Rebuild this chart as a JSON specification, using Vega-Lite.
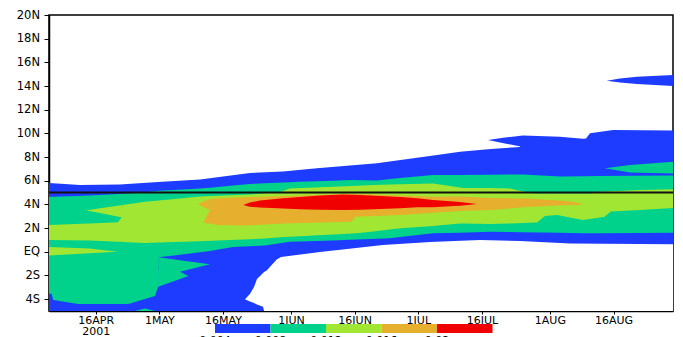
{
  "$schema": "https://vega.github.io/schema/vega-lite/v6.json",
  "width": 624,
  "height": 296,
  "autosize": {"type": "none"},
  "padding": {"left": 49, "top": 15, "right": 10, "bottom": 26},
  "background": "white",
  "config": {
    "view": {"stroke": "#000", "strokeWidth": 1.5},
    "font": "DejaVu Sans",
    "legend": {"gradientHorizontalMaxLength": 400},
    "axisY": {
      "title": null, "grid": false,
      "values": [-4, -2, 0, 2, 4, 6, 8, 10, 12, 14, 16, 18, 20],
      "labelExpr": "datum.value == 0 ? 'EQ' : (datum.value > 0 ? datum.value + 'N' : (-datum.value) + 'S')",
      "labelOverlap": false, "labelFlush": false,
      "labelFont": "DejaVu Sans", "labelFontSize": 11.5, "labelColor": "#000",
      "labelPadding": 4.5, "tickSize": 5, "tickColor": "#000", "domainColor": "#000", "domainWidth": 1.5
    }
  },
  "layer": [
    {
      "data": {"values": [
        {"z":1,"lev":0.004,"p":"b1","t":"2001-04-05T00:00Z","lo":-5,"hi":5.81},
        {"z":1,"lev":0.004,"p":"b1","t":"2001-04-12T07:00Z","lo":-5,"hi":5.64},
        {"z":1,"lev":0.004,"p":"b1","t":"2001-04-21T17:00Z","lo":-5,"hi":5.68},
        {"z":1,"lev":0.004,"p":"b1","t":"2001-04-30T16:00Z","lo":-5,"hi":5.90},
        {"z":1,"lev":0.004,"p":"b1","t":"2001-05-10T14:00Z","lo":-5,"hi":6.11},
        {"z":1,"lev":0.004,"p":"b1","t":"2001-05-22T08:00Z","lo":-5,"hi":6.66},
        {"z":1,"lev":0.004,"p":"b1","t":"2001-05-30T03:00Z","lo":-5,"hi":6.78},
        {"z":1,"lev":0.004,"p":"b1","t":"2001-06-07T03:00Z","lo":-5,"hi":7.05},
        {"z":1,"lev":0.004,"p":"b1","t":"2001-06-21T06:00Z","lo":-5,"hi":7.47},
        {"z":1,"lev":0.004,"p":"b1","t":"2001-06-25T23:00Z","lo":-5,"hi":7.71},
        {"z":1,"lev":0.004,"p":"b1","t":"2001-07-05T10:00Z","lo":-5,"hi":8.18},
        {"z":1,"lev":0.004,"p":"b1","t":"2001-07-10T20:00Z","lo":-5,"hi":8.45},
        {"z":1,"lev":0.004,"p":"b1","t":"2001-07-17T10:00Z","lo":-5,"hi":8.66},
        {"z":1,"lev":0.004,"p":"b1","t":"2001-07-21T10:00Z","lo":-5,"hi":8.77},
        {"z":1,"lev":0.004,"p":"b1","t":"2001-07-24T23:00Z","lo":-5,"hi":8.85},
        {"z":1,"lev":0.004,"p":"b1","t":"2001-07-25T16:00Z","lo":-5,"hi":9.82},
        {"z":1,"lev":0.004,"p":"b1","t":"2001-08-03T09:00Z","lo":-5,"hi":9.72},
        {"z":1,"lev":0.004,"p":"b1","t":"2001-08-08T19:00Z","lo":-5,"hi":9.55},
        {"z":1,"lev":0.004,"p":"b1","t":"2001-08-09T12:00Z","lo":-5,"hi":9.57},
        {"z":1,"lev":0.004,"p":"b1","t":"2001-08-10T11:00Z","lo":-5,"hi":10.01},
        {"z":1,"lev":0.004,"p":"b1","t":"2001-08-15T21:00Z","lo":-5,"hi":10.29},
        {"z":1,"lev":0.004,"p":"b1","t":"2001-08-30T00:00Z","lo":-5,"hi":10.25},
        {"z":1,"lev":0.004,"p":"b2","t":"2001-07-17T10:00Z","lo":9.44,"hi":9.44},
        {"z":1,"lev":0.004,"p":"b2","t":"2001-07-21T10:00Z","lo":9.15,"hi":9.65},
        {"z":1,"lev":0.004,"p":"b2","t":"2001-07-25T16:00Z","lo":8.85,"hi":9.82},
        {"z":1,"lev":0.004,"p":"b3","t":"2001-08-14T09:00Z","lo":14.45,"hi":14.45},
        {"z":1,"lev":0.004,"p":"b3","t":"2001-08-17T12:00Z","lo":14.30,"hi":14.64},
        {"z":1,"lev":0.004,"p":"b3","t":"2001-08-21T12:00Z","lo":14.17,"hi":14.79},
        {"z":1,"lev":0.004,"p":"b3","t":"2001-08-30T00:00Z","lo":14.00,"hi":14.93},
        {"z":2,"lev":0,"p":"w1","t":"2001-05-21T04:00Z","lo":-4.01,"hi":-4.01},
        {"z":2,"lev":0,"p":"w1","t":"2001-05-22T08:00Z","lo":-4.20,"hi":-3.56},
        {"z":2,"lev":0,"p":"w1","t":"2001-05-23T07:00Z","lo":-4.32,"hi":-2.97},
        {"z":2,"lev":0,"p":"w1","t":"2001-05-24T00:00Z","lo":-4.45,"hi":-2.30},
        {"z":2,"lev":0,"p":"w1","t":"2001-05-25T10:00Z","lo":-4.64,"hi":-1.79},
        {"z":2,"lev":0,"p":"w1","t":"2001-05-25T16:00Z","lo":-5,"hi":-1.71},
        {"z":2,"lev":0,"p":"w1","t":"2001-05-26T07:00Z","lo":-5,"hi":-1.58},
        {"z":2,"lev":0,"p":"w1","t":"2001-05-28T15:00Z","lo":-5,"hi":-0.65},
        {"z":2,"lev":0,"p":"w1","t":"2001-05-29T16:00Z","lo":-5,"hi":-0.44},
        {"z":2,"lev":0,"p":"w1","t":"2001-06-07T20:00Z","lo":-5,"hi":-0.01},
        {"z":2,"lev":0,"p":"w1","t":"2001-06-22T16:00Z","lo":-5,"hi":0.57},
        {"z":2,"lev":0,"p":"w1","t":"2001-07-03T18:00Z","lo":-5,"hi":0.83},
        {"z":2,"lev":0,"p":"w1","t":"2001-07-15T13:00Z","lo":-5,"hi":1.00},
        {"z":2,"lev":0,"p":"w1","t":"2001-07-24T23:00Z","lo":-5,"hi":0.91},
        {"z":2,"lev":0,"p":"w1","t":"2001-08-05T18:00Z","lo":-5,"hi":0.70},
        {"z":2,"lev":0,"p":"w1","t":"2001-08-30T00:00Z","lo":-5,"hi":0.63},
        {"z":3,"lev":0.008,"p":"t1","t":"2001-04-05T00:00Z","lo":-3.52,"hi":4.63},
        {"z":3,"lev":0.008,"p":"t1","t":"2001-04-05T15:00Z","lo":-3.56,"hi":4.64},
        {"z":3,"lev":0.008,"p":"t1","t":"2001-04-06T00:00Z","lo":-4.07,"hi":4.65},
        {"z":3,"lev":0.008,"p":"t1","t":"2001-04-11T20:00Z","lo":-4.41,"hi":4.72},
        {"z":3,"lev":0.008,"p":"t1","t":"2001-04-14T16:00Z","lo":-4.41,"hi":4.76},
        {"z":3,"lev":0.008,"p":"t1","t":"2001-04-23T15:00Z","lo":-4.41,"hi":4.92},
        {"z":3,"lev":0.008,"p":"t1","t":"2001-04-24T02:00Z","lo":-4.36,"hi":4.92},
        {"z":3,"lev":0.008,"p":"t1","t":"2001-04-29T23:00Z","lo":-3.73,"hi":5.12},
        {"z":3,"lev":0.008,"p":"t1","t":"2001-04-30T11:00Z","lo":-3.21,"hi":5.14},
        {"z":3,"lev":0.008,"p":"t1","t":"2001-04-30T16:00Z","lo":-2.97,"hi":5.14},
        {"z":3,"lev":0.008,"p":"t1","t":"2001-04-30T20:00Z","lo":-0.46,"hi":5.15},
        {"z":3,"lev":0.008,"p":"t1","t":"2001-05-05T09:00Z","lo":-0.27,"hi":5.24},
        {"z":3,"lev":0.008,"p":"t1","t":"2001-05-10T14:00Z","lo":-0.04,"hi":5.35},
        {"z":3,"lev":0.008,"p":"t1","t":"2001-05-12T22:00Z","lo":0.07,"hi":5.42},
        {"z":3,"lev":0.008,"p":"t1","t":"2001-05-18T08:00Z","lo":0.41,"hi":5.60},
        {"z":3,"lev":0.008,"p":"t1","t":"2001-05-22T08:00Z","lo":0.47,"hi":5.73},
        {"z":3,"lev":0.008,"p":"t1","t":"2001-05-25T21:00Z","lo":0.53,"hi":5.78},
        {"z":3,"lev":0.008,"p":"t1","t":"2001-05-31T18:00Z","lo":0.85,"hi":5.88},
        {"z":3,"lev":0.008,"p":"t1","t":"2001-06-03T03:00Z","lo":0.88,"hi":5.92},
        {"z":3,"lev":0.008,"p":"t1","t":"2001-06-10T22:00Z","lo":0.96,"hi":6.01},
        {"z":3,"lev":0.008,"p":"t1","t":"2001-06-14T22:00Z","lo":1.01,"hi":6.06},
        {"z":3,"lev":0.008,"p":"t1","t":"2001-06-21T06:00Z","lo":1.10,"hi":6.02},
        {"z":3,"lev":0.008,"p":"t1","t":"2001-06-24T08:00Z","lo":1.14,"hi":6.14},
        {"z":3,"lev":0.008,"p":"t1","t":"2001-06-26T17:00Z","lo":1.24,"hi":6.23},
        {"z":3,"lev":0.008,"p":"t1","t":"2001-07-04T11:00Z","lo":1.56,"hi":6.49},
        {"z":3,"lev":0.008,"p":"t1","t":"2001-07-10T20:00Z","lo":1.61,"hi":6.49},
        {"z":3,"lev":0.008,"p":"t1","t":"2001-07-17T21:00Z","lo":1.69,"hi":6.51},
        {"z":3,"lev":0.008,"p":"t1","t":"2001-07-25T16:00Z","lo":1.65,"hi":6.53},
        {"z":3,"lev":0.008,"p":"t1","t":"2001-08-03T09:00Z","lo":1.60,"hi":6.36},
        {"z":3,"lev":0.008,"p":"t1","t":"2001-08-08T19:00Z","lo":1.56,"hi":6.38},
        {"z":3,"lev":0.008,"p":"t1","t":"2001-08-12T19:00Z","lo":1.57,"hi":6.40},
        {"z":3,"lev":0.008,"p":"t1","t":"2001-08-30T00:00Z","lo":1.61,"hi":6.44},
        {"z":3,"lev":0.008,"p":"t2","t":"2001-04-30T18:00Z","lo":-2.95,"hi":-0.46},
        {"z":3,"lev":0.008,"p":"t2","t":"2001-05-05T21:00Z","lo":-1.68,"hi":-0.71},
        {"z":3,"lev":0.008,"p":"t2","t":"2001-05-12T22:00Z","lo":-1.06,"hi":-1.06},
        {"z":3,"lev":0.008,"p":"t3","t":"2001-04-30T18:00Z","lo":-2.95,"hi":-1.54},
        {"z":3,"lev":0.008,"p":"t3","t":"2001-05-05T21:00Z","lo":-2.30,"hi":-1.68},
        {"z":3,"lev":0.008,"p":"t3","t":"2001-05-07T20:00Z","lo":-2.04,"hi":-2.04},
        {"z":3,"lev":0.008,"p":"t4","t":"2001-08-13T23:00Z","lo":7.05,"hi":7.05},
        {"z":3,"lev":0.008,"p":"t4","t":"2001-08-19T21:00Z","lo":6.70,"hi":7.33},
        {"z":3,"lev":0.008,"p":"t4","t":"2001-08-30T00:00Z","lo":6.61,"hi":7.61},
        {"z":3,"lev":0.008,"p":"t5","t":"2001-04-25T06:00Z","lo":-5,"hi":-5},
        {"z":3,"lev":0.008,"p":"t5","t":"2001-04-27T15:00Z","lo":-5,"hi":-4.79},
        {"z":3,"lev":0.008,"p":"t5","t":"2001-04-29T23:00Z","lo":-5,"hi":-5},
        {"z":4,"lev":0.012,"p":"y1","t":"2001-04-05T00:00Z","lo":1.00,"hi":2.26},
        {"z":4,"lev":0.012,"p":"y1","t":"2001-04-14T05:00Z","lo":0.96,"hi":2.39},
        {"z":4,"lev":0.012,"p":"y1","t":"2001-04-14T16:00Z","lo":0.96,"hi":2.40},
        {"z":4,"lev":0.012,"p":"y1","t":"2001-04-21T06:00Z","lo":0.85,"hi":2.49},
        {"z":4,"lev":0.012,"p":"y1","t":"2001-04-22T02:00Z","lo":0.84,"hi":2.90},
        {"z":4,"lev":0.012,"p":"y1","t":"2001-04-22T07:00Z","lo":0.83,"hi":3.95},
        {"z":4,"lev":0.012,"p":"y1","t":"2001-04-27T15:00Z","lo":0.74,"hi":4.23},
        {"z":4,"lev":0.012,"p":"y1","t":"2001-05-04T16:00Z","lo":0.83,"hi":4.47},
        {"z":4,"lev":0.012,"p":"y1","t":"2001-05-10T14:00Z","lo":0.90,"hi":4.67},
        {"z":4,"lev":0.012,"p":"y1","t":"2001-05-17T15:00Z","lo":1.00,"hi":4.77},
        {"z":4,"lev":0.012,"p":"y1","t":"2001-05-22T08:00Z","lo":1.07,"hi":4.84},
        {"z":4,"lev":0.012,"p":"y1","t":"2001-05-25T21:00Z","lo":1.12,"hi":4.95},
        {"z":4,"lev":0.012,"p":"y1","t":"2001-05-29T10:00Z","lo":1.22,"hi":5.05},
        {"z":4,"lev":0.012,"p":"y1","t":"2001-05-31T18:00Z","lo":1.28,"hi":5.35},
        {"z":4,"lev":0.012,"p":"y1","t":"2001-06-16T13:00Z","lo":1.56,"hi":5.58},
        {"z":4,"lev":0.012,"p":"y1","t":"2001-06-20T08:00Z","lo":1.72,"hi":5.64},
        {"z":4,"lev":0.012,"p":"y1","t":"2001-06-26T17:00Z","lo":1.99,"hi":5.70},
        {"z":4,"lev":0.012,"p":"y1","t":"2001-07-04T11:00Z","lo":2.18,"hi":5.77},
        {"z":4,"lev":0.012,"p":"y1","t":"2001-07-10T20:00Z","lo":2.39,"hi":5.43},
        {"z":4,"lev":0.012,"p":"y1","t":"2001-07-11T13:00Z","lo":2.39,"hi":5.39},
        {"z":4,"lev":0.012,"p":"y1","t":"2001-07-17T21:00Z","lo":2.35,"hi":5.39},
        {"z":4,"lev":0.012,"p":"y1","t":"2001-07-22T14:00Z","lo":2.40,"hi":5.35},
        {"z":4,"lev":0.012,"p":"y1","t":"2001-07-25T16:00Z","lo":2.44,"hi":5.09},
        {"z":4,"lev":0.012,"p":"y1","t":"2001-07-28T12:00Z","lo":2.48,"hi":4.92},
        {"z":4,"lev":0.012,"p":"y1","t":"2001-07-28T23:00Z","lo":2.47,"hi":4.92},
        {"z":4,"lev":0.012,"p":"y1","t":"2001-07-30T20:00Z","lo":3.02,"hi":4.92},
        {"z":4,"lev":0.012,"p":"y1","t":"2001-08-02T16:00Z","lo":3.11,"hi":4.92},
        {"z":4,"lev":0.012,"p":"y1","t":"2001-08-08T19:00Z","lo":2.69,"hi":4.92},
        {"z":4,"lev":0.012,"p":"y1","t":"2001-08-10T11:00Z","lo":2.77,"hi":4.92},
        {"z":4,"lev":0.012,"p":"y1","t":"2001-08-12T19:00Z","lo":2.89,"hi":5.08},
        {"z":4,"lev":0.012,"p":"y1","t":"2001-08-13T18:00Z","lo":2.94,"hi":5.09},
        {"z":4,"lev":0.012,"p":"y1","t":"2001-08-15T09:00Z","lo":3.40,"hi":5.12},
        {"z":4,"lev":0.012,"p":"y1","t":"2001-08-22T05:00Z","lo":3.54,"hi":5.22},
        {"z":4,"lev":0.012,"p":"y1","t":"2001-08-30T00:00Z","lo":3.70,"hi":5.28},
        {"z":4,"lev":0.012,"p":"y2","t":"2001-04-13T17:00Z","lo":3.49,"hi":3.49},
        {"z":4,"lev":0.012,"p":"y2","t":"2001-04-17T00:00Z","lo":3.28,"hi":3.68},
        {"z":4,"lev":0.012,"p":"y2","t":"2001-04-22T07:00Z","lo":2.90,"hi":3.95},
        {"z":4,"lev":0.012,"p":"y3","t":"2001-04-05T00:00Z","lo":-0.31,"hi":0.41},
        {"z":4,"lev":0.012,"p":"y3","t":"2001-04-14T16:00Z","lo":-0.12,"hi":0.28},
        {"z":4,"lev":0.012,"p":"y3","t":"2001-04-21T03:00Z","lo":0.01,"hi":0.01},
        {"z":5,"lev":0.016,"p":"o1","t":"2001-05-10T04:00Z","lo":4.04,"hi":4.04},
        {"z":5,"lev":0.016,"p":"o1","t":"2001-05-11T08:00Z","lo":3.78,"hi":4.22},
        {"z":5,"lev":0.016,"p":"o1","t":"2001-05-12T22:00Z","lo":3.53,"hi":4.46},
        {"z":5,"lev":0.016,"p":"o2","t":"2001-05-11T08:00Z","lo":2.46,"hi":2.46},
        {"z":5,"lev":0.016,"p":"o2","t":"2001-05-12T22:00Z","lo":2.39,"hi":3.53},
        {"z":5,"lev":0.016,"p":"o2","t":"2001-05-13T01:00Z","lo":2.38,"hi":4.46},
        {"z":5,"lev":0.016,"p":"o2","t":"2001-05-14T12:00Z","lo":2.26,"hi":4.50},
        {"z":5,"lev":0.016,"p":"o2","t":"2001-05-20T18:00Z","lo":2.22,"hi":4.60},
        {"z":5,"lev":0.016,"p":"o2","t":"2001-05-31T18:00Z","lo":2.41,"hi":4.71},
        {"z":5,"lev":0.016,"p":"o2","t":"2001-06-13T06:00Z","lo":2.52,"hi":4.88},
        {"z":5,"lev":0.016,"p":"o2","t":"2001-06-15T07:00Z","lo":2.54,"hi":4.88},
        {"z":5,"lev":0.016,"p":"o2","t":"2001-06-16T02:00Z","lo":2.96,"hi":4.88},
        {"z":5,"lev":0.016,"p":"o2","t":"2001-06-26T17:00Z","lo":3.11,"hi":4.76},
        {"z":5,"lev":0.016,"p":"o2","t":"2001-07-04T11:00Z","lo":3.30,"hi":4.65},
        {"z":5,"lev":0.016,"p":"o2","t":"2001-07-10T20:00Z","lo":3.45,"hi":4.67},
        {"z":5,"lev":0.016,"p":"o2","t":"2001-07-17T21:00Z","lo":3.53,"hi":4.54},
        {"z":5,"lev":0.016,"p":"o2","t":"2001-07-26T14:00Z","lo":3.78,"hi":4.50},
        {"z":5,"lev":0.016,"p":"o2","t":"2001-08-04T02:00Z","lo":3.93,"hi":4.32},
        {"z":5,"lev":0.016,"p":"o2","t":"2001-08-07T09:00Z","lo":3.95,"hi":4.16},
        {"z":5,"lev":0.016,"p":"o2","t":"2001-08-08T21:00Z","lo":4.01,"hi":4.01},
        {"z":6,"lev":0.02,"p":"r1","t":"2001-05-20T18:00Z","lo":3.95,"hi":3.95},
        {"z":6,"lev":0.02,"p":"r1","t":"2001-05-22T08:00Z","lo":3.80,"hi":4.16},
        {"z":6,"lev":0.02,"p":"r1","t":"2001-05-24T17:00Z","lo":3.74,"hi":4.33},
        {"z":6,"lev":0.02,"p":"r1","t":"2001-05-30T03:00Z","lo":3.66,"hi":4.52},
        {"z":6,"lev":0.02,"p":"r1","t":"2001-06-03T03:00Z","lo":3.59,"hi":4.63},
        {"z":6,"lev":0.02,"p":"r1","t":"2001-06-07T20:00Z","lo":3.55,"hi":4.76},
        {"z":6,"lev":0.02,"p":"r1","t":"2001-06-13T06:00Z","lo":3.53,"hi":4.84},
        {"z":6,"lev":0.02,"p":"r1","t":"2001-06-17T06:00Z","lo":3.55,"hi":4.80},
        {"z":6,"lev":0.02,"p":"r1","t":"2001-06-21T23:00Z","lo":3.61,"hi":4.71},
        {"z":6,"lev":0.02,"p":"r1","t":"2001-06-26T17:00Z","lo":3.67,"hi":4.63},
        {"z":6,"lev":0.02,"p":"r1","t":"2001-06-30T17:00Z","lo":3.76,"hi":4.52},
        {"z":6,"lev":0.02,"p":"r1","t":"2001-07-04T11:00Z","lo":3.76,"hi":4.38},
        {"z":6,"lev":0.02,"p":"r1","t":"2001-07-08T11:00Z","lo":3.84,"hi":4.27},
        {"z":6,"lev":0.02,"p":"r1","t":"2001-07-10T20:00Z","lo":3.89,"hi":4.21},
        {"z":6,"lev":0.02,"p":"r1","t":"2001-07-14T20:00Z","lo":4.04,"hi":4.04}
      ]},
      "encoding": {
        "x": {
          "field": "t", "type": "temporal",
          "scale": {"type": "utc", "domain": [{"year": 2001, "month": 4, "date": 5, "utc": true}, {"year": 2001, "month": 8, "date": 30, "utc": true}]},
          "axis": {
            "title": null, "grid": false,
            "values": [
              {"year": 2001, "month": 4, "date": 16, "utc": true},
              {"year": 2001, "month": 5, "date": 1, "utc": true},
              {"year": 2001, "month": 5, "date": 16, "utc": true},
              {"year": 2001, "month": 6, "date": 1, "utc": true},
              {"year": 2001, "month": 6, "date": 16, "utc": true},
              {"year": 2001, "month": 7, "date": 1, "utc": true},
              {"year": 2001, "month": 7, "date": 16, "utc": true},
              {"year": 2001, "month": 8, "date": 1, "utc": true},
              {"year": 2001, "month": 8, "date": 16, "utc": true}
            ],
            "labelExpr": "utcFormat(datum.value, '%m%d') == '0416' ? ['16APR', '2001'] : utcFormat(datum.value, '%-d') + upper(utcFormat(datum.value, '%b'))",
            "labelAngle": 0, "labelOverlap": false, "labelFlush": false,
            "labelFont": "DejaVu Sans", "labelFontSize": 11, "labelColor": "#000",
            "labelLineHeight": 11.5, "labelPadding": 0,
            "tickSize": 3, "tickColor": "#000", "domainColor": "#000", "domainWidth": 1.5
          }
        },
        "y": {
          "field": "hi", "type": "quantitative", "stack": null,
          "scale": {"domain": [-5, 20], "nice": false, "zero": false}
        },
        "y2": {"field": "lo"},
        "detail": {"field": "p"},
        "color": {
          "field": "lev", "type": "quantitative",
          "scale": {"type": "threshold", "domain": [0.004, 0.008, 0.012, 0.016, 0.02], "range": ["#ffffff", "#1e3cff", "#00d28c", "#a0e632", "#e6af2d", "#f00000"]},
          "legend": {
            "type": "gradient", "orient": "none", "legendX": 110.5, "legendY": 309,
            "direction": "horizontal", "gradientLength": 333, "gradientThickness": 9,
            "gradientStrokeWidth": 0, "title": null, "format": ".3~f",
            "labelFont": "DejaVu Sans", "labelFontSize": 11, "labelColor": "#000",
            "labelOffset": 2, "labelOverlap": false
          }
        }
      },
      "layer": [
        {"transform": [{"filter": "datum.z == 1"}], "mark": {"type": "area", "interpolate": "linear"}},
        {"transform": [{"filter": "datum.z == 2"}], "mark": {"type": "area", "interpolate": "linear"}},
        {"transform": [{"filter": "datum.z == 3"}], "mark": {"type": "area", "interpolate": "linear"}},
        {"transform": [{"filter": "datum.z == 4"}], "mark": {"type": "area", "interpolate": "linear"}},
        {"transform": [{"filter": "datum.z == 5"}], "mark": {"type": "area", "interpolate": "linear"}},
        {"transform": [{"filter": "datum.z == 6"}], "mark": {"type": "area", "interpolate": "linear"}}
      ]
    },
    {
      "data": {"values": [{"lat": 5}]},
      "mark": {"type": "rule", "color": "#111", "strokeWidth": 2},
      "encoding": {"y": {"field": "lat", "type": "quantitative"}}
    }
  ]
}
